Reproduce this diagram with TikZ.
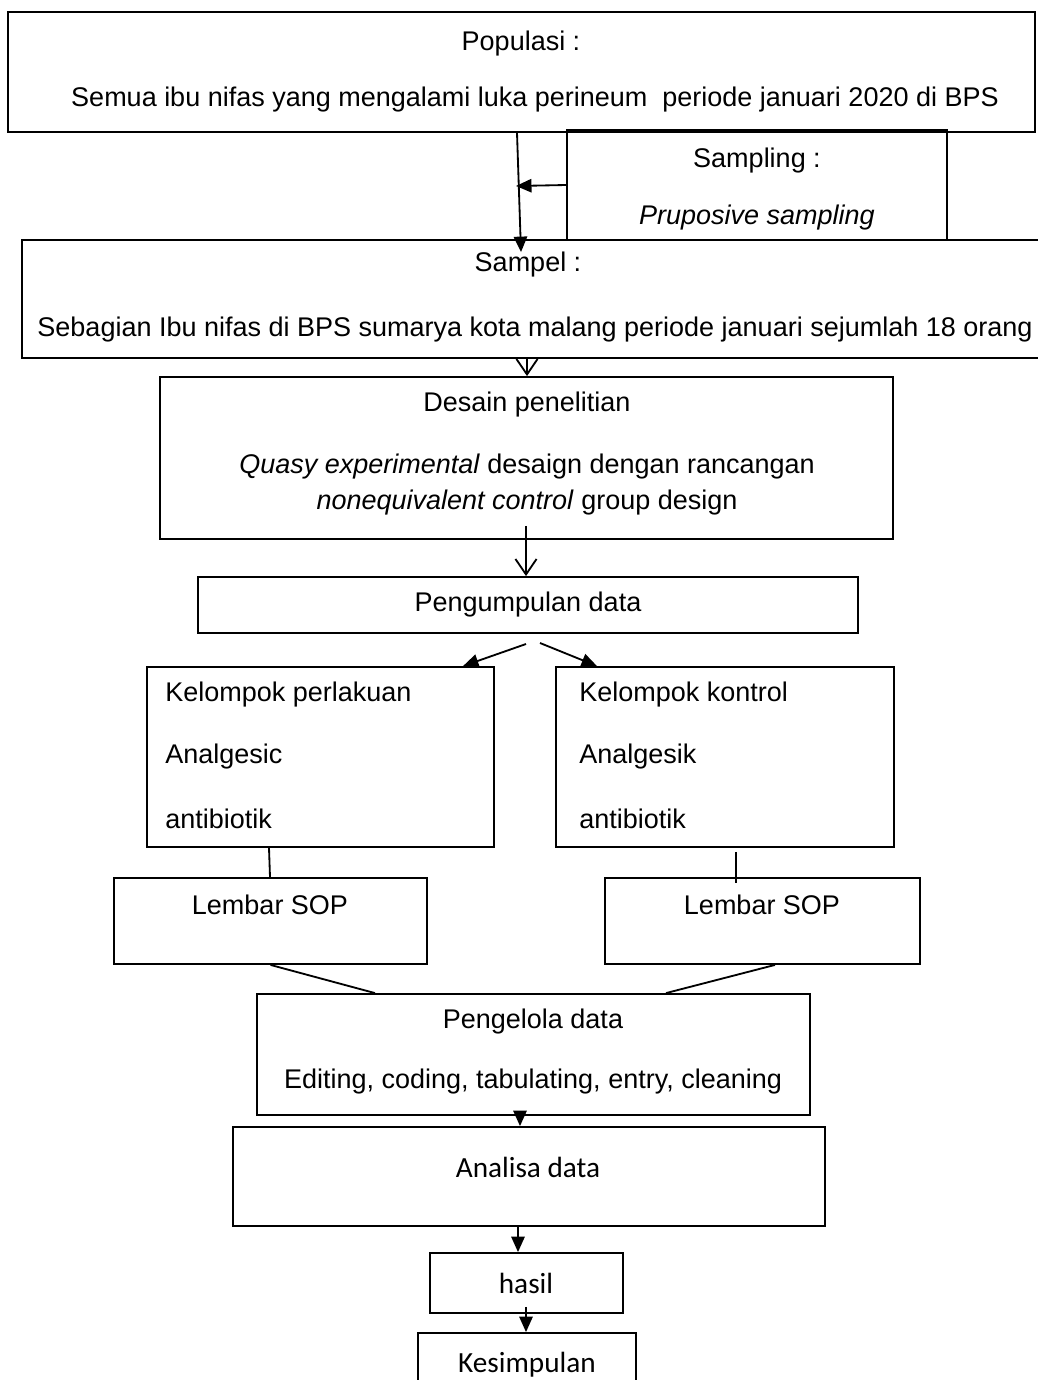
\documentclass[tikz,border=0pt]{standalone}
\usepackage{fontspec}
\setmainfont{Liberation Sans}
\newfontfamily\calibrifont{Carlito}
\usetikzlibrary{arrows.meta,fit}

\begin{document}
\begin{tikzpicture}[x=0.025cm,y=-0.025cm,
    box/.style={draw,line width=1.3pt,inner sep=0pt},
    txt/.style={font=\fontsize{19.2}{23}\selectfont,inner sep=0pt},
    ctxt/.style={font=\calibrifont\fontsize{20.8}{25}\selectfont,inner sep=0pt},
    arr/.style={line width=1.3pt,-{Triangle[length=11pt,width=9.5pt]}},
    barb/.style={line width=1.3pt,-{Straight Barb[length=11pt,width=15pt]}},
    ln/.style={line width=1.3pt}]
  \useasboundingbox (0,0) rectangle (1038,1380);

  % boxes
  \node[box,fit={(8,12)(1035,132)}] (pop) {};
  \node[box,fit={(567,130)(947,240)}] (samp) {};
  \node[box,fit={(22,240)(1042,358)}] (sam) {};
  \node[box,fit={(160,377)(893,539)}] (des) {};
  \node[box,fit={(198,577)(858,633)}] (kumpul) {};
  \node[box,fit={(147,667)(494,847)}] (kperl) {};
  \node[box,fit={(556,667)(894,847)}] (kkont) {};
  \node[box,fit={(114,878)(427,964)}] (sopa) {};
  \node[box,fit={(605,878)(920,964)}] (sopb) {};
  \node[box,fit={(257,994)(810,1115)}] (kelola) {};
  \node[box,fit={(233,1127)(825,1226)}] (analisa) {};
  \node[box,fit={(430,1253)(623,1313)}] (hasil) {};
  \node[box,fit={(418,1333)(636,1400)}] (simpul) {};

  % texts
  \node[txt] (popa) at (521,44) {Populasi :};
  \node[txt] (popb) at (535,100) {Semua ibu nifas yang mengalami luka perineum \ periode januari 2020 di BPS};
  \node[txt] (sampa) at (757,161) {Sampling :};
  \node[txt] (sampb) at (757,218) {\itshape Pruposive sampling};
  \node[txt] (sama) at (528,265) {Sampel :};
  \node[txt] (samb) at (535,330) {Sebagian Ibu nifas di BPS sumarya kota malang periode januari sejumlah 18 orang};
  \node[txt] (desa) at (527,405) {Desain penelitian};
  \node[txt] (desb) at (527,467) {\textit{Quasy experimental} desaign dengan rancangan};
  \node[txt] (desc) at (527,503) {\textit{nonequivalent control} group design};
  \node[txt] (kumpult) at (528,605) {Pengumpulan data};
  \node[txt,anchor=west] (kperla) at (165,695) {Kelompok perlakuan};
  \node[txt,anchor=west] (kperlb) at (165,757) {Analgesic};
  \node[txt,anchor=west] (kperlc) at (165,819) {antibiotik};
  \node[txt,anchor=west] (kkonta) at (579,695) {Kelompok kontrol};
  \node[txt,anchor=west] (kkontb) at (579,757) {Analgesik};
  \node[txt,anchor=west] (kkontc) at (579,819) {antibiotik};
  \node[txt] (sopat) at (270,905) {Lembar SOP};
  \node[txt] (sopbt) at (762,905) {Lembar SOP};
  \node[txt] (kelolaa) at (533,1022) {Pengelola data};
  \node[txt] (kelolab) at (533,1082) {Editing, coding, tabulating, entry, cleaning};
  \node[ctxt] (analisat) at (528,1167) {Analisa data};
  \node[ctxt] (hasilt) at (526,1283) {hasil};
  \node[ctxt] (simpult) at (527,1365) {Kesimpulan};

  % connectors
  \coordinate (join) at (516,186);
  \coordinate (split) at (533,643);
  \draw[arr] ([shift={(-4.5,0)}]pop.south) -- ([shift={(-11,13)}]sam.north);
  \draw[arr] (samp.west) -- (join);
  \draw[barb] ([shift={(-5,0)}]sam.south) -- ([shift={(0.5,0)}]des.north);
  \draw[barb] ([shift={(-0.5,-14)}]des.south) -- ([shift={(-2,0)}]kumpul.north);
  \draw[arr] ([shift={(-7,1)}]split) -- ([shift={(142.5,0)}]kperl.north);
  \draw[arr] ([shift={(7,0)}]split) -- ([shift={(-128,0)}]kkont.north);
  \draw[ln] ([shift={(-51.5,0)}]kperl.south) -- ([shift={(-0.5,0)}]sopa.north);
  \draw[ln] ([shift={(11,4)}]kkont.south) -- ([shift={(-26.5,6)}]sopb.north);
  \draw[ln] (sopa.south) -- ([shift={(-158.5,0)}]kelola.north);
  \draw[ln] ([shift={(12.5,0)}]sopb.south) -- ([shift={(132.5,0)}]kelola.north);
  \draw[arr] ([shift={(-13.5,-3)}]kelola.south) -- ([shift={(-9,0)}]analisa.north);
  \draw[arr] ([shift={(-11,0)}]analisa.south) -- ([shift={(-8.5,0)}]hasil.north);
  \draw[arr] ([shift={(-0.5,-7)}]hasil.south) -- ([shift={(-1,0)}]simpul.north);
\end{tikzpicture}
\end{document}
